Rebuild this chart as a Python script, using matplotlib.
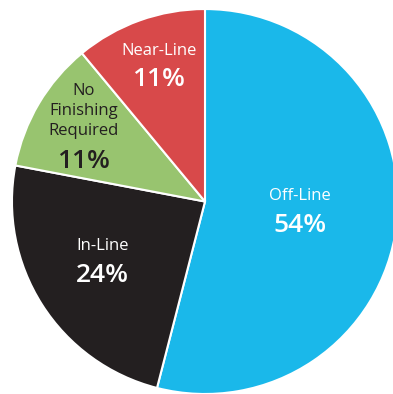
import matplotlib.pyplot as plt

categories = ['Off-Line', 'In-Line', 'No\nFinishing\nRequired', 'Near-Line']
shares = [54, 24, 11, 11]
colors = ['#1ab8ea', '#231f20', '#98c46f', '#d8494a']
text_colors = ['white', 'white', '#231f20', 'white']

# label anchor (name centre, percent centre) in data units
name_pos = [(0.49, 0.03), (-0.53, -0.23), (-0.63, 0.47), (-0.24, 0.78)]
pct_pos = [(0.49, -0.125), (-0.53, -0.385), (-0.63, 0.21), (-0.24, 0.635)]

plt.rcParams['font.family'] = ['Open Sans', 'DejaVu Sans']

fig = plt.figure(figsize=(3.93, 3.94), dpi=100)
ax = fig.add_axes([0, 0, 1, 1])
ax.pie(shares, colors=colors, startangle=90, counterclock=False, radius=1,
       wedgeprops=dict(edgecolor='white', linewidth=1.5))

for i, cat in enumerate(categories):
    ax.text(*name_pos[i], cat, ha='center', va='center', fontsize=12,
            color=text_colors[i], linespacing=1.3)
    ax.text(*pct_pos[i], '{}%'.format(shares[i]), ha='center', va='center',
            fontsize=19, fontweight='semibold', color=text_colors[i])

ax.set_xlim(-1.062, 0.974)
ax.set_ylim(-1.0, 1.047)
ax.set_aspect('auto')
ax.axis('off')
fig.savefig('out.png', dpi=100)
